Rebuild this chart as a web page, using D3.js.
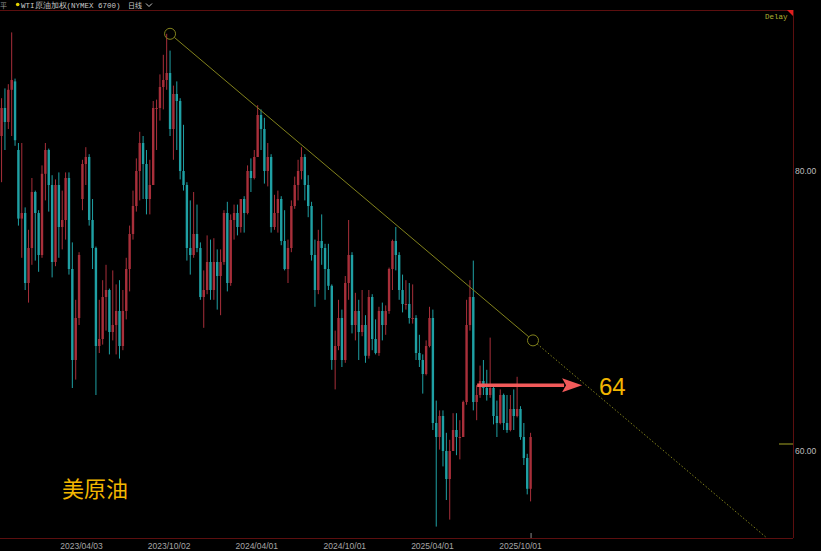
<!DOCTYPE html>
<html><head><meta charset="utf-8">
<script src="https://cdn.jsdelivr.net/npm/d3@7"></script>
<style>html,body{margin:0;padding:0;background:#000;overflow:hidden}</style>
</head><body>
<svg id="c" width="821" height="551"></svg>
<script>
// ---- data (weekly bars) ----
const firstWeek = "2022-10-17";
const lastWeek = "2025-10-20";
const opens = [
82.5,84.5,83.5,85.8,86.4,81.5,76.6,77.0,72.0,74.5,
78.5,77.0,74.0,79.8,81.5,79.0,73.5,79.0,76.0,76.5,
79.5,73.0,66.5,69.5,78.0,80.5,81.0,76.5,74.5,67.5,
68.0,71.0,71.5,68.5,69.0,70.0,67.5,70.0,73.0,75.5,
77.5,80.0,82.0,80.5,78.0,79.0,84.5,84.5,86.0,86.5,
87.0,83.0,85.5,85.0,80.0,79.0,74.5,74.0,75.5,74.5,
71.0,71.5,73.5,71.5,73.5,72.5,73.5,77.0,72.0,76.5,
77.0,76.0,78.0,77.0,80.0,79.5,81.0,84.0,83.0,80.0,
81.0,76.0,77.0,78.0,75.0,73.0,74.5,77.5,79.0,80.0,
81.0,79.0,77.5,74.0,71.5,75.0,74.5,73.0,71.8,66.5,
67.5,69.5,66.5,72.0,74.0,69.0,70.0,68.5,69.0,66.8,
71.0,68.0,67.0,70.0,69.0,70.0,73.0,75.0,74.0,71.5,
70.5,70.5,69.5,69.5,67.0,66.5,65.5,67.5,69.5,62.0,
61.0,62.5,60.0,58.0,60.0,61.5,61.0,61.0,63.5,69.0,
71.0,63.5,64.0,65.0,64.5,64.0,64.5,62.5,62.0,64.0,
62.0,61.5,63.0,62.5,63.0,61.0,59.5,57.3];
const highs = [
85.2,85.9,86.2,89.9,86.6,82.0,82.0,77.4,75.8,79.5,
78.6,77.2,80.4,82.0,81.6,79.7,79.4,79.9,78.6,79.9,
79.9,74.9,70.8,74.2,80.8,81.7,81.2,78.0,74.6,70.8,
72.2,73.3,71.6,72.9,71.9,72.2,71.5,73.8,76.1,78.6,
80.9,82.8,82.5,81.5,80.8,85.0,85.1,86.9,88.3,89.8,
88.6,86.1,86.4,85.2,83.3,79.2,77.9,78.5,77.6,74.9,
72.9,75.4,75.1,75.2,74.4,74.4,77.2,77.8,76.9,77.6,
77.6,78.0,78.2,80.4,80.9,81.5,84.7,84.4,83.8,82.0,
81.2,78.3,78.6,78.2,77.2,75.1,77.9,79.6,80.8,81.7,
81.2,79.7,77.8,75.1,75.8,76.9,74.8,74.8,71.9,68.6,
70.8,70.1,72.5,76.5,74.2,71.3,70.8,71.5,69.7,71.5,
71.2,69.4,70.3,70.6,70.4,73.1,75.1,76.0,74.2,72.6,
72.2,72.0,71.9,69.7,68.3,66.9,67.9,70.3,70.1,63.6,
62.9,62.9,61.3,60.8,62.7,62.7,62.2,63.6,70.8,72.2,
73.6,64.7,66.1,66.5,65.8,68.1,64.6,63.6,64.4,64.1,
64.0,64.0,64.4,65.3,63.2,62.0,59.8,61.3];
const lows = [
79.2,81.5,83.0,82.5,81.8,76.1,73.8,71.5,70.6,73.3,
73.6,72.8,73.8,77.9,77.1,72.4,73.2,73.8,74.4,75.1,
72.6,64.5,65.1,69.0,77.2,79.0,76.1,73.0,64.0,67.0,
67.6,68.6,66.9,67.9,66.9,66.6,67.2,69.4,71.4,75.1,
77.1,77.9,78.0,76.9,76.9,79.0,81.5,83.6,84.4,85.8,
82.5,80.8,81.5,79.4,78.6,73.6,72.6,73.8,74.2,70.8,
68.8,71.2,70.8,70.8,70.1,69.7,73.3,71.4,71.8,75.1,
75.4,75.6,75.6,76.9,78.5,79.4,81.0,81.5,79.1,78.9,
75.6,75.8,75.6,74.7,72.9,72.0,74.2,77.3,77.9,79.4,
77.9,76.7,73.6,70.3,71.2,73.3,70.8,71.5,65.8,64.4,
67.2,66.0,66.3,70.8,68.4,67.9,66.5,68.2,66.3,66.6,
67.2,66.9,66.8,67.9,68.3,69.8,71.5,72.9,70.8,69.9,
70.1,69.1,69.1,66.5,66.0,64.1,65.4,67.4,61.5,54.6,
60.1,58.9,56.5,55.1,60.0,59.7,59.4,61.0,63.3,68.6,
62.9,62.2,63.8,64.0,63.6,63.8,61.9,61.0,61.9,61.5,
61.3,61.4,61.5,62.4,60.8,59.0,56.9,56.4];
const closes = [
84.5,83.5,85.8,86.5,82.2,76.6,77.0,72.0,74.5,78.5,
77.0,74.0,79.8,81.5,79.0,73.5,79.0,76.0,76.5,79.5,
73.0,66.5,69.5,74.0,80.5,81.0,76.5,74.5,67.5,68.0,
71.0,71.5,68.5,69.0,70.0,67.5,70.0,73.0,75.5,77.5,
80.0,82.0,80.5,78.0,79.0,84.5,84.5,86.0,86.5,87.0,
83.0,85.5,85.0,80.0,79.0,74.5,74.0,75.5,74.5,71.0,
71.5,73.5,71.5,73.5,72.5,73.5,77.0,72.0,76.5,77.0,
76.0,78.0,77.0,80.0,79.5,81.0,84.0,83.0,80.0,81.0,
76.0,77.0,78.0,75.0,73.0,74.5,77.5,79.0,80.0,81.0,
79.0,77.5,74.0,71.5,75.0,74.5,73.0,71.8,66.5,67.5,
69.5,66.5,72.0,74.0,69.0,70.0,68.5,69.0,66.8,71.0,
68.0,67.0,70.0,69.0,70.0,73.0,75.0,74.0,71.5,70.5,
70.5,69.5,69.5,67.0,66.5,65.5,67.5,69.5,62.0,61.0,
62.5,60.0,58.0,60.0,61.5,61.0,61.0,63.5,69.0,71.0,
63.5,64.0,65.0,64.5,64.0,64.5,62.5,62.0,64.0,62.0,
61.5,63.0,62.5,63.0,61.0,59.5,57.3,61.0];
const xTickLabels = ["2023/04/03","2023/10/02","2024/04/01","2024/10/01","2025/04/01","2025/10/01"];
const yTickValues = [80, 60];
const trendPoints = [["2023-10-05", 89.8], ["2025-10-28", 67.9]];
const arrowPoints = [["2025-07-04", 64.7], ["2026-02-07", 64.7]];
const targetLabel = {date: "2026-03-14", value: 64.7, text: "64"};
const lastBarDate = "2025-10-24";
const markerValue = 60.5;
const titleText = "WTI原油加权(NYMEX 6700)";
const periodText = "日线";
const nameText = "美原油";

// ---- layout ----
const W = 821, H = 551, plotRight = 793, plotTop = 10, plotBottom = 538;
const parseD = d3.utcParse("%Y-%m-%d");
const parseS = d3.utcParse("%Y/%m/%d");
const x = d3.scaleUtc().domain([parseS("2023/04/03"), parseS("2025/10/01")]).range([81, 520]);
const y = d3.scaleLinear().domain([60, 80]).range([451, 171]);

const svg = d3.select("#c");
svg.append("rect").attr("width", W).attr("height", H).attr("fill", "#000");

const weeks = d3.utcMonday.range(parseD(firstWeek), d3.utcDay.offset(parseD(lastWeek), 1));
const bars = weeks.map((d, i) => ({date: d3.utcDay.offset(d, 3), o: opens[i], h: highs[i], l: lows[i], c: closes[i]}));

const UP = "#a82f3a", DOWN = "#1fa0a4";
svg.append("clipPath").attr("id", "plot").append("rect")
  .attr("x", 0).attr("y", plotTop).attr("width", plotRight).attr("height", plotBottom - plotTop);
const g = svg.append("g").attr("clip-path", "url(#plot)");

const bw = 2.4;
const cg = g.append("g");
cg.selectAll("line.wick").data(bars).join("line")
  .attr("x1", d => x(d.date)).attr("x2", d => x(d.date))
  .attr("y1", d => y(d.h)).attr("y2", d => y(d.l))
  .attr("stroke", d => d.c >= d.o ? UP : DOWN).attr("stroke-width", 1);
cg.selectAll("rect.body").data(bars).join("rect")
  .attr("x", d => x(d.date) - bw / 2).attr("width", bw)
  .attr("y", d => y(Math.max(d.o, d.c)))
  .attr("height", d => Math.max(1, Math.abs(y(d.o) - y(d.c))))
  .attr("fill", d => d.c >= d.o ? UP : DOWN);

// ---- trend line ----
const OLIVE = "#82821c";
const tp = trendPoints.map(([d, v]) => [x(parseD(d)), y(v)]);
const r = 5.5;
const dx = tp[1][0] - tp[0][0], dy = tp[1][1] - tp[0][1], len = Math.hypot(dx, dy);
const ux = dx / len, uy = dy / len;
g.append("line")
  .attr("x1", tp[0][0] + ux * r).attr("y1", tp[0][1] + uy * r)
  .attr("x2", tp[1][0] - ux * r).attr("y2", tp[1][1] - uy * r)
  .attr("stroke", OLIVE).attr("stroke-width", 1);
const tEnd = (plotBottom - tp[1][1]) / uy;
g.append("line")
  .attr("x1", tp[1][0] + ux * r).attr("y1", tp[1][1] + uy * r)
  .attr("x2", tp[1][0] + ux * tEnd).attr("y2", plotBottom)
  .attr("stroke", OLIVE).attr("stroke-width", 1).attr("stroke-dasharray", "1.5,2");
tp.forEach(p => g.append("circle").attr("cx", p[0]).attr("cy", p[1]).attr("r", r)
  .attr("fill", "none").attr("stroke", OLIVE).attr("stroke-width", 1));

// ---- arrow ----
const ARROW = "#f25a5a";
const a0 = [x(parseD(arrowPoints[0][0])), y(arrowPoints[0][1])];
const a1 = [x(parseD(arrowPoints[1][0])), y(arrowPoints[1][1])];
const headL = 20, headW = 7;
g.append("line").attr("x1", a0[0]).attr("y1", a0[1]).attr("x2", a1[0] - headL + 2).attr("y2", a1[1])
  .attr("stroke", ARROW).attr("stroke-width", 3.5);
g.append("path")
  .attr("d", `M${a1[0]},${a1[1]} L${a1[0] - headL},${a1[1] - headW} L${a1[0] - headL + 4},${a1[1]} L${a1[0] - headL},${a1[1] + headW} Z`)
  .attr("fill", ARROW);

const GOLD = "#f2b600";
svg.append("text").attr("x", x(parseD(targetLabel.date))).attr("y", y(targetLabel.value) + 10)
  .attr("fill", GOLD).attr("font-family", "Liberation Sans, Arial, sans-serif").attr("font-size", 24)
  .text(targetLabel.text);

svg.append("text").attr("x", 62).attr("y", 497)
  .attr("fill", GOLD).attr("font-family", "Noto Sans CJK SC, sans-serif").attr("font-size", 22)
  .text(nameText);

// ---- frame ----
const FRAME = "#5c0f0f";
svg.append("line").attr("x1", 0).attr("x2", plotRight).attr("y1", plotTop + 0.5).attr("y2", plotTop + 0.5).attr("stroke", FRAME);
svg.append("line").attr("x1", plotRight + 0.5).attr("x2", plotRight + 0.5).attr("y1", plotTop).attr("y2", plotBottom).attr("stroke", FRAME);
svg.append("line").attr("x1", 0).attr("x2", plotRight).attr("y1", plotBottom + 0.5).attr("y2", plotBottom + 0.5).attr("stroke", FRAME);
svg.append("path").attr("d", `M${plotRight - 6},${plotTop} L${plotRight},${plotTop} L${plotRight},${plotTop + 6} Z`).attr("fill", "#e01e1e");

// marker on right edge
svg.append("line").attr("x1", 779).attr("x2", plotRight).attr("y1", y(markerValue)).attr("y2", y(markerValue))
  .attr("stroke", "#6e6e18").attr("stroke-width", 1.5);
// last bar tick
const lx = x(parseD(lastBarDate));
svg.append("line").attr("x1", lx).attr("x2", lx).attr("y1", plotBottom - 5).attr("y2", plotBottom).attr("stroke", "#8a8a8a");

// ---- axes ----
const xAxis = d3.axisBottom(x).tickValues(xTickLabels.map(parseS)).tickFormat(d3.utcFormat("%Y/%m/%d")).tickSize(0).tickPadding(5);
const xg = svg.append("g").attr("transform", `translate(0,${plotBottom})`).call(xAxis);
xg.select(".domain").remove();
xg.selectAll("text").attr("fill", "#a6a6a6").attr("font-family", "Liberation Sans, Arial, sans-serif").attr("font-size", 8.5);

const yAxis = d3.axisRight(y).tickValues(yTickValues).tickFormat(d3.format(".2f")).tickSize(0).tickPadding(2);
const yg = svg.append("g").attr("transform", `translate(${plotRight},0)`).call(yAxis);
yg.select(".domain").remove();
yg.selectAll("text").attr("fill", "#bdbdbd").attr("font-family", "Liberation Sans, Arial, sans-serif").attr("font-size", 8.5);

// ---- header ----
svg.append("text").attr("x", 0).attr("y", 8).attr("fill", "#9a9a9a")
  .attr("font-family", "Noto Sans CJK SC, sans-serif").attr("font-size", 7).text("平");
svg.append("circle").attr("cx", 17.7).attr("cy", 4.5).attr("r", 1.8).attr("fill", "#e6d400");
svg.append("text").attr("x", 21).attr("y", 8).attr("fill", "#c8c8c8")
  .attr("font-family", "Liberation Mono, DejaVu Sans Mono, monospace").attr("font-size", 7.5).text(titleText);
svg.append("text").attr("x", 128).attr("y", 8).attr("fill", "#c8c8c8")
  .attr("font-family", "Noto Sans CJK SC, sans-serif").attr("font-size", 7).text(periodText);
svg.append("path").attr("d", "M146,3.5 L149,6.5 L152,3.5").attr("fill", "none").attr("stroke", "#c8c8c8").attr("stroke-width", 1);
svg.append("text").attr("x", 765).attr("y", 19).attr("fill", "#b0b030")
  .attr("font-family", "Liberation Mono, DejaVu Sans Mono, monospace").attr("font-size", 7.5).text("Delay");
</script>
</body></html>
